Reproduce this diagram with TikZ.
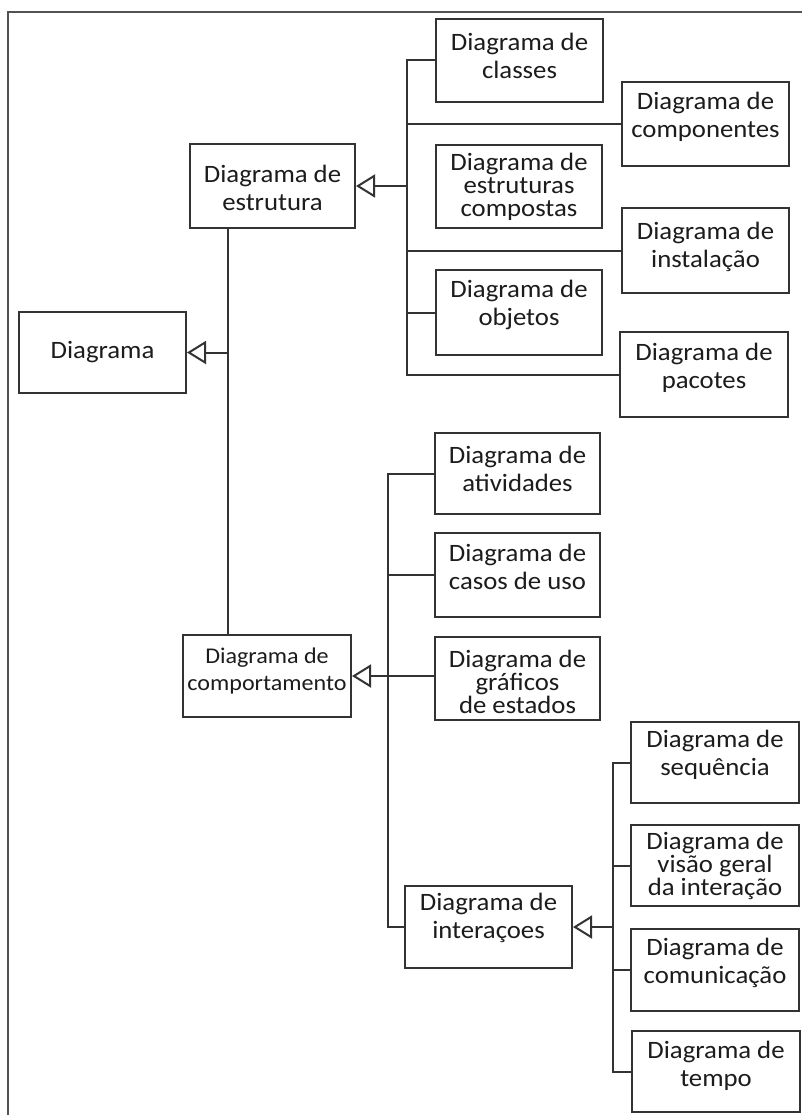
\documentclass[tikz,border=0pt]{standalone}
\usepackage{fontspec}
\setmainfont{Carlito}[FakeStretch=1.07]
\usetikzlibrary{arrows.meta}
\definecolor{lc}{HTML}{333333}
\definecolor{tc}{HTML}{1C1C1C}

% box: [text options] name, x1, y1, x2, y2, vertical text shift, text
\newcommand\umlbox[8][]{%
  \node[box, minimum width={(#5-#3)*1pt}, minimum height={(#6-#4)*1pt}]
    (#2) at ({(#3+#5)/2},{(#4+#6)/2}) {};
  \node[txt, #1, yshift=#7] (#2-t) at (#2.center) {#8};
}

\begin{document}
\begin{tikzpicture}[x=1pt, y=-1pt,
  box/.style={draw=lc, line width=2pt, fill=white, inner sep=0pt},
  txt/.style={text=tc, align=center, inner sep=0pt,
              font=\fontsize{25}{28}\selectfont},
  tight/.style={font=\fontsize{25}{23}\selectfont},
  ln/.style={draw=lc, line width=2pt, line cap=rect},
  arr/.style={draw=lc, line width=2pt,
              -{Triangle[open, length=19pt, width=23pt, line width=2pt]}},
  frame/.style={draw=lc!85, line width=1.7pt}]

\useasboundingbox (0,0) rectangle (802,1115);
\fill[white] (0,0) rectangle (802,1115);

% outer frame (open on the right and at the bottom)
\draw[frame] (8,1115) -- (8,12) -- (802,12);

% top level
\umlbox{root}{19}{312}{186}{393}{0}{Diagrama}
\umlbox{estr}{190}{144}{355}{228}{-2}{Diagrama de\\estrutura}
\umlbox[font=\fontsize{22.5}{27}\selectfont]{comp}{183}{635}{351}{717}{5}{Diagrama de\\comportamento}

% structure diagrams
\umlbox{cla}{436}{19}{603}{102}{5}{Diagrama de\\classes}
\umlbox{cpn}{622}{82}{789}{166}{7}{Diagrama de\\componentes}
\umlbox[tight]{cmp}{436}{145}{602}{228}{0}{Diagrama de\\estruturas\\compostas}
\umlbox{ins}{622}{208}{789}{293}{4}{Diagrama de\\instalação}
\umlbox{obj}{436}{270}{602}{355}{8}{Diagrama de\\objetos}
\umlbox{pac}{620}{332}{788}{417}{7}{Diagrama de\\pacotes}

% behaviour diagrams
\umlbox{ati}{435}{433}{600}{514}{5}{Diagrama de\\atividades}
\umlbox{cas}{435}{533}{600}{617}{8}{Diagrama de\\casos de uso}
\umlbox[tight]{gra}{435}{637}{600}{720}{-3}{Diagrama de\\gráficos\\de estados}
\umlbox{int}{405}{886}{572}{968}{9}{Diagrama de\\interaçoes}

% interaction diagrams
\umlbox{seq}{631}{722}{799}{803}{8}{Diagrama de\\sequência}
\umlbox[tight]{vis}{631}{825}{799}{906}{0}{Diagrama de\\visão geral\\da interação}
\umlbox{cmn}{631}{929}{799}{1011}{7}{Diagrama de\\comunicação}
\umlbox{tem}{632}{1031}{800}{1112}{6}{Diagrama de\\tempo}

% bus positions
\coordinate (sx) at (228,0);
\coordinate (stx) at (407,0);
\coordinate (bx) at (388,0);
\coordinate (ix) at (613,0);

% Diagrama <- estrutura / comportamento
\draw[ln] (estr.south -| sx) -- (comp.north -| sx);
\draw[arr] (root.east -| sx) -- (root.east);

% estrutura <- structure diagrams
\draw[ln] (cla.west -| stx) -- (pac.west -| stx);
\draw[ln] (cla.west -| stx) -- (cla.west);
\draw[ln] (cpn.west -| stx) -- (cpn.west);
\draw[ln] (ins.west -| stx) -- (ins.west);
\draw[ln] (obj.west -| stx) -- (obj.west);
\draw[ln] (pac.west -| stx) -- (pac.west);
\draw[arr] (estr.east -| stx) -- (estr.east);

% comportamento <- behaviour diagrams
\draw[ln] (ati.west -| bx) -- (int.west -| bx) -- (int.west);
\draw[ln] (ati.west -| bx) -- (ati.west);
\draw[ln] (cas.west -| bx) -- (cas.west);
\draw[arr] (comp.east -| gra.west) -- (comp.east);

% interacoes <- interaction diagrams
\draw[ln] (seq.west -| ix) -- (tem.west -| ix);
\draw[ln] (seq.west -| ix) -- (seq.west);
\draw[ln] (vis.west -| ix) -- (vis.west);
\draw[ln] (cmn.west -| ix) -- (cmn.west);
\draw[ln] (tem.west -| ix) -- (tem.west);
\draw[arr] (int.east -| ix) -- (int.east);

\end{tikzpicture}
\end{document}
